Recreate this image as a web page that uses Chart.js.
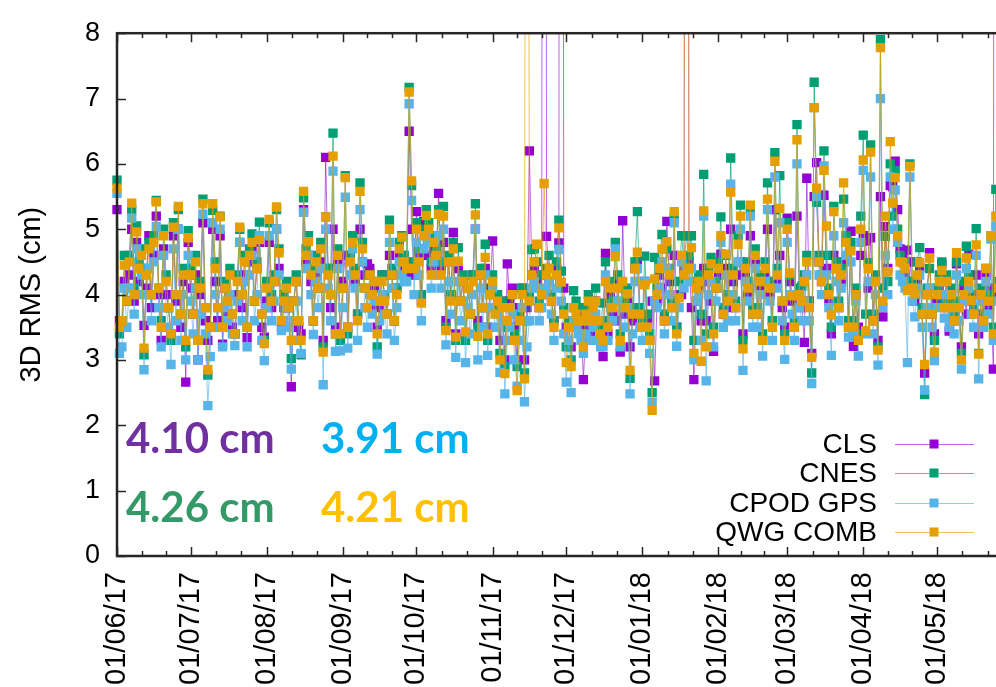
<!DOCTYPE html>
<html>
<head>
<meta charset="utf-8">
<title>3D RMS</title>
<script src="https://cdn.jsdelivr.net/npm/chart.js@4.4.1/dist/chart.umd.min.js"></script>
<style>
  html, body { margin: 0; padding: 0; background: #fff; overflow: hidden; }
  #wrap { width: 996px; height: 687px; overflow: hidden; position: relative; }
  canvas { display: block; }
</style>
</head>
<body>
<div id="wrap"><canvas id="rmsChart" width="1040" height="687"></canvas></div>
<script>
// Daily 3D RMS (cm), one value per day starting 01/06/17
const CLS = [
  5.3, 3.6, 3.5, 4.2, 3.9, 4.3, 5.0, 3.9, 4.8, 4.2,
  4.4, 3.53, 4.1, 4.9, 3.8, 4.6, 5.2, 4.0, 3.3, 4.7,
  4.0, 3.8, 3.4, 4.9, 3.9, 5.0, 3.5, 4.2, 2.66, 4.8,
  4.1, 3.7, 4.3, 3.0, 4.0, 5.1, 3.6, 3.3, 3.5, 5.0,
  4.2, 3.6, 4.9, 3.24, 4.1, 3.7, 4.0, 3.5, 3.4, 4.0,
  4.8, 3.8, 4.3, 3.34, 4.5, 4.7, 3.9, 4.4, 4.8, 3.5,
  3.35, 3.9, 4.8, 3.8, 4.2, 5.0, 4.4, 3.5, 3.8, 4.1,
  3.8, 2.59, 3.9, 4.2, 3.5, 3.4, 5.3, 4.5, 4.6, 4.2,
  3.6, 4.3, 4.1, 4.5, 3.3, 6.1, 4.4, 3.8, 5.0, 3.5,
  4.5, 3.4, 4.2, 4.6, 3.5, 4.6, 4.9, 4.2, 3.7, 5.0,
  4.5, 4.3, 4.47, 4.4, 3.8, 4.1, 3.5, 3.8, 4.3, 4.0,
  3.7, 4.6, 4.3, 3.6, 4.1, 4.6, 4.6, 4.4, 4.3, 6.5,
  5.0, 4.3, 5.27, 4.6, 3.9, 5.12, 4.6, 4.9, 4.4, 4.7,
  4.5, 5.55, 4.4, 4.8, 3.6, 4.5, 4.0, 4.95, 3.4, 4.4,
  3.9, 4.2, 3.4, 4.1, 3.7, 4.3, 5.0, 3.6, 4.3, 3.8,
  4.4, 3.5, 4.1, 4.82, 3.8, 4.0, 3.3, 3.9, 3.0, 4.47,
  3.9, 4.1, 3.5, 3.0, 3.8, 4.1, 3.0, 3.8, 6.2, 4.3,
  4.4, 4.2, 3.8, 4.0, 40, 4.89, 4.2, 3.9, 3.6, 4.4,
  4.79, 45, 4.1, 3.5, 3.6, 3.2, 3.8, 3.5, 3.7, 3.6,
  2.7, 3.5, 3.8, 3.4, 3.6, 3.9, 3.5, 3.3, 3.05, 4.63,
  3.4, 4.0, 3.7, 3.6, 4.2, 3.12, 5.13, 3.7, 3.9, 3.2,
  3.6, 4.4, 4.5, 3.7, 3.5, 4.2, 3.6, 3.3, 3.9, 2.68,
  3.9, 4.3, 4.1, 3.6, 5.12, 4.2, 3.8, 4.6, 3.5, 4.0,
  4.0, 4.4, 38, 4.5, 3.8, 2.7, 3.9, 4.1, 3.6, 4.4,
  3.6, 4.2, 3.9, 3.13, 4.1, 4.3, 4.62, 3.7, 4.4, 3.8,
  5.0, 4.2, 3.8, 4.3, 4.5, 3.4, 4.3, 4.0, 4.9, 3.7,
  4.5, 3.7, 4.1, 3.3, 4.3, 5.0, 4.0, 3.6, 5.3, 4.2,
  4.6, 3.8, 3.5, 5.17, 4.2, 3.9, 3.6, 5.2, 4.0, 3.8,
  3.27, 5.78, 3.9, 3.1, 5.5, 6.02, 4.5, 4.2, 5.52, 4.4,
  3.9, 3.4, 4.6, 4.4, 3.8, 4.2, 4.5, 4.8, 3.5, 4.97,
  3.21, 4.0, 3.5, 4.6, 4.9, 4.82, 4.1, 4.87, 3.6, 4.2,
  3.3, 5.5, 3.66, 5.04, 4.4, 5.67, 5.65, 6.04, 5.3, 4.7,
  4.6, 4.3, 4.68, 4.5, 4.1, 3.9, 4.2, 4.42, 3.7, 2.8,
  4.0, 4.64, 3.7, 3.4, 3.9, 4.1, 4.47, 3.8, 4.2, 3.44,
  4.0, 3.6, 4.47, 3.8, 3.2, 4.1, 3.7, 4.62, 3.9, 3.71,
  4.3, 3.4, 4.0, 3.6, 4.3, 3.8, 4.1, 2.86, 42, 4.0
];

const CNES = [
  5.75, 3.4, 3.6, 4.6, 3.9, 4.6, 5.3, 4.1, 5.05, 4.5,
  4.7, 3.08, 4.4, 4.8, 4.0, 4.9, 5.44, 4.1, 3.6, 5.0,
  4.3, 3.8, 3.3, 5.1, 4.0, 5.3, 3.7, 4.4, 3.2, 4.98,
  4.4, 3.7, 4.6, 3.3, 4.2, 5.46, 3.8, 2.77, 3.5, 5.29,
  4.5, 3.8, 5.2, 3.5, 4.2, 3.9, 4.4, 3.7, 3.4, 4.3,
  5.0, 4.0, 4.6, 3.5, 4.7, 4.93, 3.9, 4.5, 5.11, 3.7,
  3.3, 4.2, 5.1, 4.0, 4.3, 5.3, 4.7, 3.6, 4.0, 4.2,
  3.8, 3.02, 3.9, 4.3, 3.6, 3.08, 5.48, 4.7, 4.9, 4.4,
  3.6, 4.6, 4.1, 4.8, 3.2, 5.19, 4.4, 4.0, 6.47, 3.4,
  4.7, 3.3, 4.1, 5.82, 3.4, 4.6, 4.9, 4.4, 3.7, 5.71,
  4.8, 4.1, 3.8, 4.3, 4.0, 4.2, 3.2, 3.9, 4.3, 4.0,
  3.7, 5.14, 4.4, 3.6, 4.1, 4.8, 4.9, 4.6, 4.5, 7.17,
  5.67, 4.5, 5.1, 4.7, 4.0, 5.0, 5.3, 5.1, 4.5, 4.9,
  4.7, 5.3, 4.5, 5.35, 3.5, 4.6, 4.0, 4.8, 3.3, 4.72,
  3.9, 4.3, 3.3, 4.1, 3.7, 4.3, 5.39, 3.5, 4.4, 3.8,
  4.77, 3.3, 4.0, 4.3, 3.8, 4.0, 3.1, 3.9, 2.9, 3.5,
  3.8, 4.0, 3.4, 2.9, 3.7, 4.1, 2.8, 3.6, 4.0, 4.69,
  4.7, 4.5, 3.9, 4.3, 4.3, 4.4, 4.6, 4.0, 3.6, 4.5,
  5.14, 4.36, 3.8, 3.2, 3.6, 3.0, 4.06, 3.9, 3.8, 3.6,
  3.3, 3.8, 4.0, 3.6, 3.9, 4.1, 3.6, 3.5, 3.87, 4.5,
  3.6, 4.2, 3.9, 4.8, 4.3, 3.4, 4.1, 3.9, 4.1, 2.72,
  3.8, 4.5, 5.27, 3.8, 3.6, 4.59, 3.7, 3.4, 2.5, 4.57,
  4.1, 4.5, 4.92, 3.7, 4.7, 4.4, 3.9, 5.2, 3.5, 4.2,
  4.9, 4.5, 4.9, 4.6, 4.9, 3.3, 4.2, 4.3, 3.7, 5.84,
  3.4, 4.4, 4.57, 3.5, 4.2, 4.5, 5.19, 3.8, 4.6, 4.0,
  6.09, 4.4, 3.9, 4.9, 5.37, 3.3, 4.5, 4.2, 5.3, 3.8,
  4.7, 3.8, 4.3, 3.4, 4.5, 5.71, 4.2, 3.6, 6.17, 4.4,
  5.82, 3.9, 3.4, 5.1, 4.3, 4.0, 3.6, 6.6, 4.1, 4.13,
  4.3, 4.6, 3.9, 2.8, 7.25, 5.41, 4.6, 4.3, 6.2, 4.6,
  4.1, 3.5, 5.35, 4.5, 3.9, 4.4, 5.46, 4.9, 3.6, 4.8,
  3.6, 4.1, 3.4, 5.2, 6.44, 3.7, 4.49, 6.29, 3.7, 4.3,
  3.2, 7.9, 4.1, 4.89, 4.2, 6.0, 5.2, 5.9, 5.0, 4.6,
  4.5, 4.5, 4.2, 6.0, 4.2, 4.0, 4.5, 4.72, 3.8, 2.47,
  4.1, 4.4, 3.8, 3.3, 4.1, 4.3, 4.5, 3.9, 4.3, 3.9,
  4.1, 3.7, 4.5, 3.9, 3.1, 4.2, 4.74, 4.3, 4.0, 3.8,
  5.01, 3.1, 4.1, 3.7, 4.4, 4.0, 4.9, 3.5, 5.61, 4.2
];

const CPOD_GPS = [
  5.55, 3.1, 3.2, 4.1, 3.5, 4.1, 5.17, 3.7, 4.7, 4.0,
  4.3, 2.85, 4.0, 4.4, 3.6, 4.5, 5.04, 3.8, 3.2, 4.6,
  3.8, 3.5, 2.93, 4.7, 3.6, 5.0, 3.3, 4.0, 3.0, 4.6,
  3.9, 3.4, 4.1, 3.0, 3.7, 5.23, 3.4, 2.3, 3.05, 5.1,
  4.0, 3.5, 5.0, 3.2, 3.8, 3.6, 4.0, 3.4, 3.22, 3.9,
  4.8, 3.6, 4.2, 3.2, 4.3, 4.6, 3.6, 4.0, 4.9, 3.3,
  2.99, 3.8, 4.9, 3.6, 3.9, 5.0, 4.3, 3.45, 3.6, 3.8,
  3.5, 2.86, 3.6, 3.9, 3.3, 3.1, 5.26, 4.4, 4.6, 4.0,
  3.39, 4.2, 3.8, 4.4, 2.62, 5.0, 4.1, 3.6, 5.89, 3.13,
  4.4, 3.14, 3.8, 5.49, 3.18, 4.3, 4.7, 4.1, 3.3, 5.3,
  4.5, 3.8, 3.5, 4.0, 3.7, 3.9, 3.09, 3.6, 4.0, 3.7,
  3.4, 4.8, 4.1, 3.3, 3.8, 4.5, 4.3, 4.2, 4.2, 6.92,
  5.44, 4.0, 4.8, 4.3, 3.6, 4.7, 4.9, 4.8, 4.1, 4.5,
  4.3, 4.9, 4.1, 5.0, 3.23, 4.2, 3.7, 4.5, 3.04, 4.2,
  3.6, 3.9, 2.96, 3.8, 3.4, 4.0, 5.0, 3.0, 4.1, 3.5,
  4.3, 3.07, 3.8, 4.1, 3.5, 3.7, 2.81, 3.6, 2.48, 3.3,
  3.5, 3.7, 3.0, 2.6, 3.3, 3.8, 2.36, 3.2, 3.6, 4.1,
  4.2, 4.1, 3.6, 3.8, 4.0, 4.1, 4.2, 3.7, 3.3, 4.1,
  4.69, 3.9, 3.4, 2.66, 3.3, 2.5, 3.6, 3.5, 3.4, 3.3,
  3.1, 3.4, 3.6, 3.3, 3.5, 3.7, 3.3, 3.2, 3.2, 4.3,
  3.3, 3.8, 3.6, 4.7, 3.9, 3.2, 3.8, 3.5, 3.8, 2.48,
  3.4, 4.2, 4.4, 3.5, 3.3, 4.2, 3.3, 3.1, 2.35, 3.9,
  3.8, 4.1, 4.5, 3.4, 4.4, 4.0, 3.6, 5.1, 3.21, 3.8,
  4.5, 4.1, 4.4, 4.2, 4.4, 3.0, 3.9, 4.0, 3.3, 5.2,
  2.68, 4.0, 4.2, 3.2, 3.9, 4.1, 4.8, 3.5, 4.3, 3.6,
  5.69, 4.0, 3.6, 4.5, 5.0, 2.84, 4.2, 3.9, 5.2, 3.5,
  4.4, 3.5, 4.0, 3.06, 4.2, 5.3, 3.9, 3.3, 5.8, 4.1,
  5.1, 3.6, 3.01, 4.8, 4.0, 3.7, 3.3, 6.0, 3.8, 3.6,
  3.9, 4.3, 3.6, 2.64, 6.86, 5.5, 4.3, 4.0, 5.97, 4.3,
  3.8, 3.07, 4.9, 4.2, 3.6, 4.1, 5.1, 4.6, 3.35, 4.5,
  3.4, 3.9, 3.06, 4.8, 5.9, 3.4, 4.2, 5.8, 3.4, 4.0,
  2.92, 7.0, 3.8, 4.6, 4.0, 5.8, 5.0, 5.6, 4.8, 4.3,
  4.2, 4.1, 2.96, 5.8, 3.9, 3.66, 4.1, 4.3, 3.5, 2.54,
  3.8, 4.1, 3.5, 2.99, 3.8, 4.0, 4.2, 3.64, 4.0, 3.5,
  3.8, 3.4, 4.3, 3.6, 2.86, 3.9, 4.4, 4.1, 3.7, 3.5,
  4.6, 2.71, 3.9, 3.5, 4.2, 3.7, 4.85, 3.3, 5.05, 3.9
];

const QWG_COMB = [
  5.63, 3.5, 3.6, 4.45, 3.9, 4.5, 5.4, 4.0, 4.96, 4.4,
  4.6, 3.18, 4.3, 4.7, 4.0, 4.8, 5.42, 4.1, 3.5, 4.9,
  4.2, 3.8, 3.4, 5.03, 4.0, 5.35, 3.7, 4.3, 3.3, 4.87,
  4.3, 3.7, 4.5, 3.3, 4.1, 5.39, 3.8, 2.85, 3.5, 5.39,
  4.4, 3.8, 5.19, 3.5, 4.1, 3.9, 4.3, 3.7, 3.4, 4.2,
  5.03, 4.0, 4.5, 3.5, 4.6, 4.8, 3.9, 4.4, 4.84, 3.7,
  3.25, 4.1, 5.15, 3.9, 4.2, 5.34, 4.64, 3.6, 3.9, 4.1,
  3.8, 3.3, 3.9, 4.2, 3.6, 3.3, 5.58, 4.6, 4.81, 4.3,
  3.6, 4.5, 4.1, 4.7, 3.12, 5.19, 4.3, 4.0, 6.12, 3.4,
  4.6, 3.4, 4.1, 5.79, 3.5, 4.5, 4.8, 4.3, 3.6, 5.58,
  4.7, 4.1, 3.8, 4.3, 4.0, 4.2, 3.4, 3.9, 4.2, 3.9,
  3.7, 5.0, 4.3, 3.6, 4.0, 4.7, 4.88, 4.5, 4.4, 7.1,
  5.74, 4.4, 5.0, 4.5, 3.87, 4.9, 5.21, 5.0, 4.3, 4.8,
  4.6, 5.23, 4.3, 5.2, 3.45, 4.5, 3.9, 4.7, 3.35, 4.51,
  3.9, 4.2, 3.43, 4.1, 3.7, 4.2, 5.22, 3.36, 4.3, 3.8,
  4.57, 3.4, 4.0, 4.2, 3.7, 3.9, 3.0, 3.8, 2.79, 3.6,
  3.8, 4.0, 3.3, 2.53, 3.6, 4.0, 2.71, 30, 3.9, 4.3,
  4.5, 4.77, 3.8, 4.0, 5.7, 4.3, 4.4, 3.9, 3.5, 4.3,
  5.02, 4.19, 3.7, 2.96, 3.5, 2.9, 3.8, 3.7, 3.6, 3.6,
  3.2, 3.7, 3.9, 3.6, 3.8, 3.9, 3.6, 3.4, 3.3, 4.2,
  3.5, 4.1, 3.8, 4.58, 4.1, 3.3, 4.2, 3.8, 4.01, 2.84,
  3.7, 4.4, 4.65, 3.7, 3.5, 4.15, 3.5, 3.3, 2.23, 4.24,
  4.0, 4.4, 4.7, 3.6, 4.81, 4.3, 3.8, 5.27, 3.4, 3.95,
  4.6, 4.3, 35, 4.4, 4.72, 3.1, 4.1, 4.2, 2.98, 5.28,
  3.2, 4.3, 4.47, 3.4, 4.1, 4.4, 4.9, 3.7, 4.62, 3.9,
  5.57, 4.3, 3.8, 4.77, 5.2, 3.17, 4.4, 4.1, 5.37, 3.7,
  4.6, 3.7, 4.2, 3.3, 4.4, 5.46, 4.1, 3.5, 6.04, 4.3,
  5.32, 3.9, 3.3, 5.0, 4.33, 3.98, 3.5, 6.37, 4.0, 3.9,
  4.2, 4.5, 3.8, 3.04, 6.86, 5.63, 4.5, 4.2, 5.9, 5.05,
  4.0, 3.69, 5.27, 4.4, 3.8, 4.3, 5.71, 4.8, 3.5, 4.67,
  3.5, 4.0, 3.3, 5.0, 6.06, 3.45, 4.4, 6.18, 3.6, 4.2,
  3.15, 7.78, 3.9, 5.2, 4.35, 6.34, 5.4, 5.79, 4.9, 4.5,
  4.49, 4.4, 4.06, 5.96, 4.1, 4.01, 4.3, 4.49, 3.7, 2.93,
  4.0, 4.56, 3.7, 3.12, 4.0, 4.2, 4.37, 3.8, 4.2, 3.8,
  4.0, 3.6, 4.64, 3.8, 3.0, 4.0, 4.56, 4.2, 3.91, 3.7,
  4.76, 3.09, 4.0, 3.6, 4.4, 3.9, 4.9, 3.4, 5.2, 4.1
];

// x axis: day offsets of month starts and their labels
const monthStarts = [0, 30, 61, 92, 122, 153, 183, 214, 245, 273, 304, 334, 365];
const monthLabels = ['01/06/17', '01/07/17', '01/08/17', '01/09/17', '01/10/17', '01/11/17',
                     '01/12/17', '01/01/18', '01/02/18', '01/03/18', '01/04/18', '01/05/18'];

// mean values printed on the plot
const meanLabels = ['4.10 cm', '3.91 cm', '4.26 cm', '4.21 cm'];

const FONT = "'Liberation Sans', Arial, Helvetica, sans-serif";

const series = [
  { label: 'CLS',      values: CLS,      color: '#9400d3', line: 'rgba(148,0,211,0.6)' },
  { label: 'CNES',     values: CNES,     color: '#009e73', line: 'rgba(0,158,115,0.65)' },
  { label: 'CPOD GPS', values: CPOD_GPS, color: '#56b4e9', line: 'rgba(86,180,233,0.65)' },
  { label: 'QWG COMB', values: QWG_COMB, color: '#e69f00', line: 'rgba(230,159,0,0.65)' }
];

function makeDataset(s, idx) {
  return {
    label: s.label,
    data: s.values.map((v, i) => ({ x: i, y: v })),
    order: series.length - idx,          // later series drawn on top
    borderColor: s.line,
    borderWidth: 1,
    backgroundColor: s.color,
    pointBackgroundColor: s.color,
    pointBorderColor: s.color,
    pointBorderWidth: 0,
    pointStyle: 'rect',
    pointRadius: 6.6,
    pointHoverRadius: 6.6,
    tension: 0,
    fill: false,
    clip: { left: 8, right: 8, top: 0, bottom: 8 }
  };
}

// frame, inward ticks, legend and the mean labels
const framePlugin = {
  id: 'gnuFrame',
  afterDraw(chart) {
    const { ctx, chartArea: a, scales: { x, y } } = chart;
    ctx.save();
    ctx.strokeStyle = '#262626';
    ctx.lineWidth = 1.5;
    const seg = (x1, y1, x2, y2) => { ctx.beginPath(); ctx.moveTo(x1, y1); ctx.lineTo(x2, y2); ctx.stroke(); };

    for (let v = 0; v <= 8; v++) {
      const py = Math.round(y.getPixelForValue(v)) + 0.5;
      seg(a.left, py, a.left + 9, py);
      seg(a.right, py, a.right - 9, py);
    }
    for (let i = 0; i < monthStarts.length; i++) {
      const px = Math.round(x.getPixelForValue(monthStarts[i])) + 0.5;
      seg(px, a.bottom, px, a.bottom - 9);
      seg(px, a.top, px, a.top + 9);
      if (i + 1 < monthStarts.length) {
        const len = monthStarts[i + 1] - monthStarts[i];
        [1, 2].forEach(k => {
          const mx = Math.round(x.getPixelForValue(monthStarts[i] + len * k / 3)) + 0.5;
          seg(mx, a.bottom, mx, a.bottom - 5);
          seg(mx, a.top, mx, a.top + 5);
        });
      }
    }
    ctx.lineWidth = 2.5;
    ctx.strokeRect(a.left, a.top, a.right - a.left, a.bottom - a.top);

    // legend
    ctx.font = '28px ' + FONT;
    ctx.textAlign = 'right';
    ctx.textBaseline = 'middle';
    const rowY = [444, 473, 503, 532];
    series.forEach((s, i) => {
      const ly = rowY[i];
      ctx.fillStyle = '#000';
      ctx.fillText(s.label, 877, ly + 1);
      ctx.strokeStyle = s.line;
      ctx.lineWidth = 1.2;
      seg(895, ly + 0.5, 974, ly + 0.5);
      ctx.fillStyle = s.color;
      ctx.fillRect(934 - 4.5, ly - 4.5, 9, 9);
    });

    // means
    ctx.font = "bold 42px Lato, 'Open Sans', sans-serif";
    ctx.textAlign = 'left';
    ctx.textBaseline = 'alphabetic';
    const meanColors = ['#7030a0', '#00b0f0', '#339966', '#ffc000'];
    const meanPos = [[126, 453], [321, 453], [126, 522], [321, 522]];
    meanLabels.forEach((t, i) => {
      ctx.fillStyle = meanColors[i];
      ctx.fillText(t, meanPos[i][0], meanPos[i][1]);
    });
    ctx.restore();
  }
};

new Chart(document.getElementById('rmsChart'), {
  type: 'line',
  data: { datasets: series.map(makeDataset) },
  plugins: [framePlugin],
  options: {
    responsive: false,
    animation: false,
    devicePixelRatio: 1,
    events: [],
    layout: { padding: { top: 25, right: 27, bottom: 0, left: 0 } },
    plugins: { legend: { display: false }, tooltip: { enabled: false } },
    scales: {
      x: {
        type: 'linear',
        min: 0,
        max: 365,
        grid: { display: false, drawTicks: false },
        border: { display: false },
        afterBuildTicks(scale) {
          scale.ticks = monthStarts.slice(0, monthLabels.length).map(v => ({ value: v }));
        },
        afterFit(scale) { scale.height = 131; },
        ticks: {
          autoSkip: false,
          minRotation: 90,
          maxRotation: 90,
          padding: 16,
          color: '#000',
          font: { size: 29, family: FONT },
          callback: (v, i) => monthLabels[i]
        }
      },
      y: {
        min: 0,
        max: 8,
        grid: { display: false, drawTicks: false },
        border: { display: false },
        afterFit(scale) { scale.width = 117; },
        ticks: {
          stepSize: 1,
          padding: 17,
          color: '#000',
          font: { size: 27, family: FONT }
        },
        title: {
          display: true,
          text: '3D RMS (cm)',
          color: '#000',
          padding: { top: 15, bottom: 0 },
          font: { size: 29, family: FONT }
        }
      }
    }
  }
});
</script>
</body>
</html>
